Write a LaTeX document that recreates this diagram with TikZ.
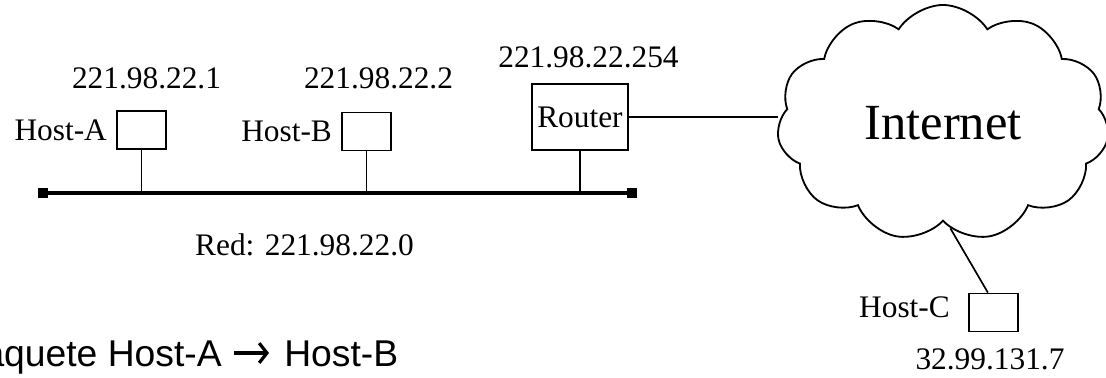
\documentclass[tikz,border=0pt]{standalone}
\usepackage{fontspec}
\setmainfont{Liberation Serif}
\newfontfamily\arialfont{Liberation Sans}
\usetikzlibrary{arrows.meta,positioning,shapes.symbols}

\begin{document}
\begin{tikzpicture}[x=0.025cm, y=-0.025cm,
    every node/.style={font=\fontsize{22.3}{26}\selectfont},
    host/.style={draw, line width=1.3pt, minimum width=1.225cm, minimum height=0.95cm, inner sep=0pt},
    router/.style={draw, line width=1.3pt, minimum width=2.4cm, minimum height=1.65cm, inner sep=0pt},
    net/.style={draw, line width=1.3pt, cloud, cloud puffs=11, cloud puff arc=115, cloud ignores aspect,
        minimum width=8.3cm, minimum height=5.9cm, font=\fontsize{36}{40}\selectfont},
    wire/.style={line width=1.2pt},
    bus/.style={line width=3pt},
    busend/.style={fill=black, minimum size=0.25cm, inner sep=0pt},
    pkttxt/.style={inner sep=0pt, font=\arialfont\fontsize{26.5}{30}\selectfont}
  ]
    \useasboundingbox (0,0) rectangle (1106,377);

    % Red local
    \coordinate (busl) at (43,193);
    \coordinate (busr) at (632,193);
    \draw[bus] (busl) -- (busr);
    \node[busend] (endl) at (busl) {};
    \node[busend] (endr) at (busr) {};

    % Equipos
    \node[host] (hosta) at (141.5,130) {};
    \node[host] (hostb) at (366.5,131.5) {};
    \node[router] (router) at (580,117) {Router};
    \node[net] (inet) at (943,123) {Internet};
    \node[host] (hostc) at (993.5,312.5) {};

    % Nombres
    \node[left=3pt of hosta] (namea) {Host-A};
    \node[left=3pt of hostb] (nameb) {Host-B};
    \node (namec) at (904.5,307) {Host-C};

    % Direcciones
    \node (ipa) at (146.5,78) {221.98.22.1};
    \node (ipb) at (378.5,78) {221.98.22.2};
    \node (ipr) at (588.5,57) {221.98.22.254};
    \node (ipc) at (990,359) {32.99.131.7};
    \node (ipnet) at (304.5,245) {Red: 221.98.22.0};

    % Conexiones
    \draw[wire] (hosta.south) -- (hosta.south |- busl);
    \draw[wire] (hostb.south) -- (hostb.south |- busl);
    \draw[wire] (router.south) -- (router.south |- busl);
    \draw[wire] (router.east) -- (router.east -| inet.west);
    \draw[wire] (inet.274) -- ([xshift=-4]hostc.north);

    % Paquete
    \node[pkttxt, anchor=base east] (pktsrc) at (222,366) {Paquete Host-A};
    \node[pkttxt, anchor=base west] (pktdst) at (284,366) {Host-B};
    \coordinate (arrs) at (234,353);
    \coordinate (arre) at (269,353);
    \draw[line width=2.3pt, -{Straight Barb[length=5.5pt, width=14pt, line width=2.3pt]}] (arrs) -- (arre);
  \end{tikzpicture}
\end{document}
